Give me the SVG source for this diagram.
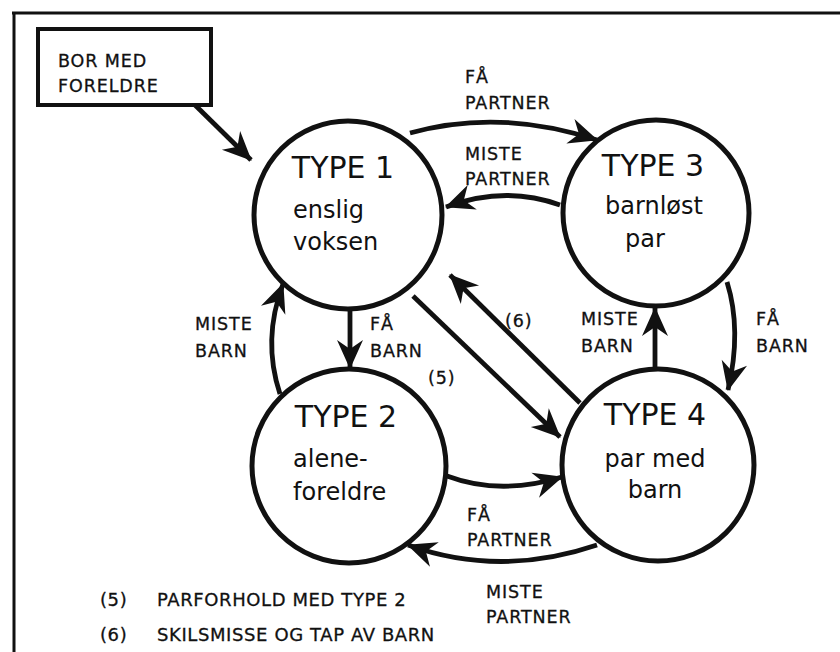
<svg xmlns="http://www.w3.org/2000/svg" width="840" height="652" viewBox="0 0 840 652">
<style>
.node{fill:#fff;stroke:#111;stroke-width:5}
.big{font-family:"DejaVu Sans",sans-serif;font-size:30px;fill:#111;text-anchor:middle}
.sub{font-family:"DejaVu Sans",sans-serif;font-size:24px;fill:#111;text-anchor:middle}
.lbl{font-family:"DejaVu Sans",sans-serif;font-size:17.5px;fill:#111;stroke:#111;stroke-width:0.3;letter-spacing:0.9px}
.leg{font-family:"DejaVu Sans",sans-serif;font-size:18px;fill:#111;stroke:#111;stroke-width:0.3;letter-spacing:0.6px}
.c{fill:none;stroke:#111;stroke-width:4.8;marker-end:url(#ah)}
</style>
<defs>
<marker id="ah" markerUnits="userSpaceOnUse" viewBox="-30 -15 32 30" refX="0" refY="0" markerWidth="32" markerHeight="30" orient="auto">
<path d="M1,0 L-28,-13 L-19,0 L-28,13 Z" fill="#111"/>
</marker>
</defs>
<rect width="840" height="652" fill="#fff"/>
<g id="frame" stroke="#111" stroke-width="3" fill="none">
<line x1="12" y1="13" x2="840" y2="13"/>
<line x1="14" y1="12" x2="14" y2="652"/>
</g>
<g id="connectors">
<path class="c" d="M195,105 L251,160" stroke-width="6"/>
<path class="c" d="M410,133 Q500,108 597,140"/>
<path class="c" d="M560,205 Q505,185 446,207"/>
<path class="c" d="M350,307 L350,368"/>
<path class="c" d="M280,394 Q262,340 283,284"/>
<path class="c" d="M413,296 L560,437" stroke-width="6"/>
<path class="c" d="M580,403 L450,275" stroke-width="6"/>
<path class="c" d="M447,476 Q500,496 562,477"/>
<path class="c" d="M597,545 Q500,578 408,545"/>
<path class="c" d="M727,282 Q742,330 728,390"/>
<path class="c" d="M655,367 L655,308"/>
</g>
<g id="labels">
<text class="lbl" x="465" y="83">FÅ</text>
<text class="lbl" x="465" y="109">PARTNER</text>
<text class="lbl" x="465" y="160">MISTE</text>
<text class="lbl" x="465" y="185">PARTNER</text>
<text class="lbl" x="370" y="330">FÅ</text>
<text class="lbl" x="370" y="357">BARN</text>
<text class="lbl" x="195" y="330">MISTE</text>
<text class="lbl" x="195" y="357">BARN</text>
<text class="lbl" x="428" y="384">(5)</text>
<text class="lbl" x="505" y="327">(6)</text>
<text class="lbl" x="581" y="325">MISTE</text>
<text class="lbl" x="581" y="352">BARN</text>
<text class="lbl" x="756" y="325">FÅ</text>
<text class="lbl" x="756" y="352">BARN</text>
<text class="lbl" x="467" y="521">FÅ</text>
<text class="lbl" x="467" y="546">PARTNER</text>
<text class="lbl" x="486" y="598">MISTE</text>
<text class="lbl" x="486" y="623">PARTNER</text>
</g>
<g id="bor">
<rect x="38" y="29" width="173" height="76" fill="#fff" stroke="#111" stroke-width="4"/>
<text class="lbl" x="58" y="67">BOR MED</text>
<text class="lbl" x="58" y="92">FORELDRE</text>
</g>
<g id="type1">
<circle class="node" cx="348" cy="215" r="94"/>
<text class="big" x="343" y="178">TYPE 1</text>
<text x="293" y="218" class="sub" style="text-anchor:start">enslig</text>
<text x="293" y="250" class="sub" style="text-anchor:start">voksen</text>
</g>
<g id="type3">
<circle class="node" cx="656" cy="213" r="93"/>
<text class="big" x="653" y="176">TYPE 3</text>
<text class="sub" x="654" y="214">barnløst</text>
<text class="sub" x="645" y="247">par</text>
</g>
<g id="type2">
<circle class="node" cx="349" cy="466" r="97"/>
<text class="big" x="346" y="427">TYPE 2</text>
<text x="293" y="467" class="sub" style="text-anchor:start">alene-</text>
<text x="293" y="500" class="sub" style="text-anchor:start">foreldre</text>
</g>
<g id="type4">
<circle class="node" cx="658" cy="465" r="96"/>
<text class="big" x="655" y="425">TYPE 4</text>
<text class="sub" x="655" y="467">par med</text>
<text class="sub" x="655" y="498">barn</text>
</g>
<g id="legend">
<text class="leg" x="100" y="606">(5)</text>
<text class="leg" x="157" y="606">PARFORHOLD MED TYPE 2</text>
<text class="leg" x="100" y="641">(6)</text>
<text class="leg" x="157" y="641">SKILSMISSE OG TAP AV BARN</text>
</g>
</svg>
